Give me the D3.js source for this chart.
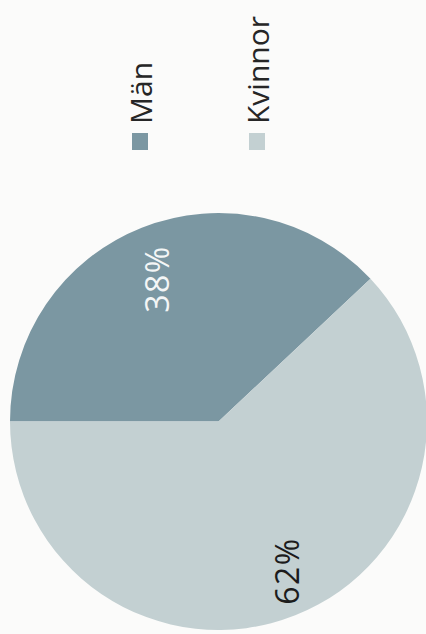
<!DOCTYPE html>
<html>
<head>
<meta charset="utf-8">
<script src="https://cdn.jsdelivr.net/npm/d3@7"></script>
<style>
  html, body { margin: 0; padding: 0; background: #fbfbfa; }
  svg { display: block; }
</style>
</head>
<body>
<svg id="chart" width="426" height="634"></svg>
<script>
const categories = ["Män", "Kvinnor"];
const values = [38, 62];
const labels = ["38%", "62%"];
const colors = ["#7b97a2", "#c3d0d2"];
const labelColors = ["#f4f6f6", "#1c1c1c"];

const svg = d3.select("#chart");
const cx = 218.5, cy = 421.5, r = 208.5;

const pie = d3.pie().sort(null).value(d => d)
  .startAngle(-Math.PI / 2).endAngle(1.5 * Math.PI);
const arcs = pie(values);
const arc = d3.arc().innerRadius(0).outerRadius(r);

const g = svg.append("g").attr("transform", `translate(${cx},${cy})`);
g.selectAll("path").data(arcs).join("path")
  .attr("d", arc)
  .attr("fill", (d, i) => colors[i]);

// slice labels, rotated -90 like the reference
const labelArc = d3.arc().innerRadius(r * 0.76).outerRadius(r * 0.76);
const labelPos = [[156 - cx, 279 - cy], [286 - cx, 571 - cy]];
g.selectAll("text.lbl").data(arcs).join("text")
  .attr("class", "lbl")
  .attr("transform", (d, i) => `translate(${labelPos[i][0]},${labelPos[i][1]}) rotate(-90)`)
  .attr("text-anchor", "middle")
  .attr("dominant-baseline", "central")
  .attr("font-family", "'Open Sans', sans-serif")
  .attr("font-size", 32)
  .attr("letter-spacing", 1.5)
  .attr("fill", (d, i) => labelColors[i])
  .text((d, i) => labels[i]);

// legend (rotated)
const legendX = [140, 257];
const leg = svg.append("g");
categories.forEach((c, i) => {
  leg.append("rect")
    .attr("x", legendX[i] - 8).attr("y", 133)
    .attr("width", 16).attr("height", 17)
    .attr("fill", colors[i]);
  leg.append("text")
    .attr("transform", `translate(${legendX[i]},${124}) rotate(-90)`)
    .attr("text-anchor", "start")
    .attr("dominant-baseline", "central")
    .attr("font-family", "'Open Sans', sans-serif")
    .attr("font-size", 30)
    .attr("fill", "#262626")
    .text(c);
});
</script>
</body>
</html>
